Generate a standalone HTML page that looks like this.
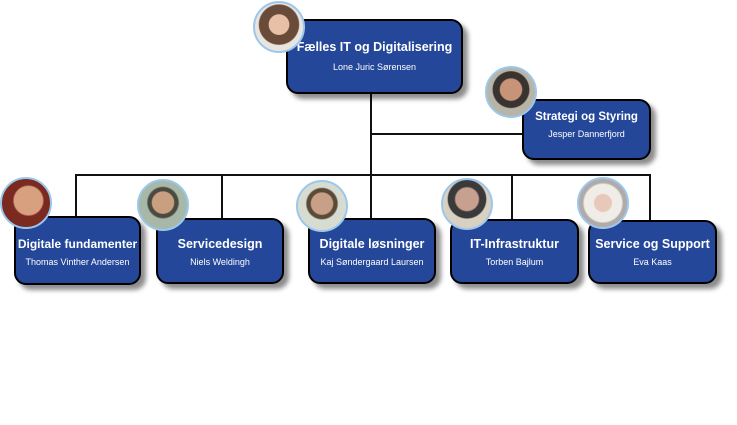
<!DOCTYPE html>
<html><head><meta charset="utf-8"><style>
body{margin:0;width:737px;height:425px;background:#fff;position:relative;overflow:hidden;font-family:"Liberation Sans",sans-serif}
.l{position:absolute;background:#111}
.b{position:absolute;background:#24479a;border:2px solid #000;border-radius:12px;box-shadow:5px 5px 5px rgba(0,0,0,.45);color:#fff;text-align:center;box-sizing:border-box}
.t{font-weight:bold;font-size:12.5px}
.n{font-size:9px;margin-top:6px}
.c{position:absolute;border-radius:50%;border:2px solid #9cc7ec;box-sizing:border-box;overflow:hidden}
</style></head><body>
<div class="l" style="left:370px;top:92px;width:2px;height:126px"></div>
<div class="l" style="left:371px;top:133px;width:152px;height:2px"></div>
<div class="l" style="left:75px;top:174px;width:576px;height:2px"></div>
<div class="l" style="left:75px;top:174px;width:2px;height:44px"></div>
<div class="l" style="left:221px;top:174px;width:2px;height:46px"></div>
<div class="l" style="left:511px;top:174px;width:2px;height:46px"></div>
<div class="l" style="left:649px;top:174px;width:2px;height:48px"></div>

<div class="b" style="left:286px;top:19px;width:177px;height:75px;padding-top:19px"><div class="t">Fælles IT og Digitalisering</div><div class="n" style="margin-top:8px">Lone Juric Sørensen</div></div>
<div class="b" style="left:522px;top:99px;width:129px;height:61px;padding-top:10px"><div class="t" style="font-size:11.5px">Strategi og Styring</div><div class="n">Jesper Dannerfjord</div></div>
<div class="b" style="left:14px;top:216px;width:127px;height:69px;padding-top:19px"><div class="t" style="font-size:12px">Digitale fundamenter</div><div class="n">Thomas Vinther Andersen</div></div>
<div class="b" style="left:156px;top:218px;width:128px;height:66px;padding-top:17px"><div class="t">Servicedesign</div><div class="n">Niels Weldingh</div></div>
<div class="b" style="left:308px;top:218px;width:128px;height:66px;padding-top:17px"><div class="t">Digitale løsninger</div><div class="n">Kaj Søndergaard Laursen</div></div>
<div class="b" style="left:450px;top:219px;width:129px;height:65px;padding-top:16px"><div class="t">IT-Infrastruktur</div><div class="n">Torben Bajlum</div></div>
<div class="b" style="left:588px;top:220px;width:129px;height:64px;padding-top:15px"><div class="t">Service og Support</div><div class="n">Eva Kaas</div></div>

<div class="c" style="left:253px;top:1px;width:52px;height:52px;background:radial-gradient(circle at 50% 45%,#e8c0a8 0 28%,#6a4a38 30% 55%,#e8e4e0 58%)"></div>
<div class="c" style="left:485px;top:66px;width:52px;height:52px;background:radial-gradient(circle at 50% 45%,#c89478 0 30%,#3a3430 33% 50%,#b8b4a8 53%)"></div>
<div class="c" style="left:0px;top:177px;width:52px;height:52px;background:radial-gradient(circle at 55% 45%,#d9a080 0 38%,#7a2a20 42%)"></div>
<div class="c" style="left:137px;top:179px;width:52px;height:52px;background:radial-gradient(circle at 50% 45%,#c8a080 0 30%,#4a4a40 33% 42%,#a8b8a8 46%)"></div>
<div class="c" style="left:296px;top:180px;width:52px;height:52px;background:radial-gradient(circle at 50% 45%,#c8a088 0 30%,#5a4a38 33% 42%,#d8dcd0 46%)"></div>
<div class="c" style="left:441px;top:178px;width:52px;height:52px;background:radial-gradient(circle at 50% 40%,#c8a090 0 30%,#3a3a3a 34% 50%,#d8d0c0 53%)"></div>
<div class="c" style="left:577px;top:177px;width:52px;height:52px;background:radial-gradient(circle at 50% 50%,#e8c8b8 0 25%,#f0ece8 28% 55%,#b0aaa8 60%)"></div>
</body></html>
